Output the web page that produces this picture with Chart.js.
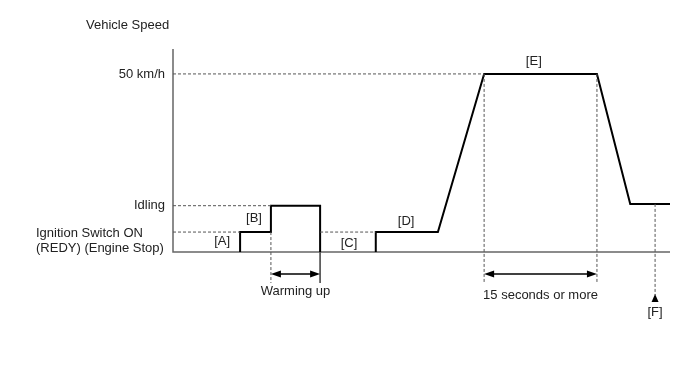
<!DOCTYPE html>
<html>
<head>
<meta charset="utf-8">
<script src="https://cdn.jsdelivr.net/npm/chart.js@4"></script>
<style>
  html, body { margin: 0; background: #fff; }
  #wrap { width: 688px; height: 366px; }
</style>
</head>
<body>
<div id="wrap"><canvas id="speedChart"></canvas></div>
<script>
// speed levels (schematic units, 50 = 50 km/h)
const levelNames = ["Ignition Switch ON", "Idling", "50 km/h"];
const levelValues = [5.6, 13, 50];

// speed profile, time as % of the drawing window
const profileAX = [13.5, 13.5, 19.7, 19.7, 29.6, 29.6];
const profileAY = [0, 5.6, 5.6, 13, 13, 0];
const profileBX = [40.8, 40.8, 53.3, 62.6, 85.3, 92, 100];
const profileBY = [0, 5.6, 5.6, 50, 50, 13.5, 13.5];

// step labels
const stepNames = ["[A]", "[B]", "[C]", "[D]", "[E]", "[F]"];
const stepX = [9.9, 16.3, 35.4, 46.9, 72.6, 97];
const stepY = [3.1, 9.5, 2.5, 8.7, 53.4, -17.1];

// intervals marked under the axis
const intervalNames = ["Warming up", "15 seconds or more"];
const intervalFrom = [19.7, 62.6];
const intervalTo = [29.6, 85.3];
const intervalTextY = [-11.2, -12.1];
const intervalArrowY = -6.2;

// dashed guides [from, to, at]
const hGuides = [[0, 62.6, 50], [0, 19.7, 13], [0, 13.5, 5.6], [29.6, 40.8, 5.6]];
const vGuides = [[19.7, 5.6, -8.7], [62.6, 50, -8.7], [85.3, 50, -8.7], [97, 13.5, -12.1]];
const markF = 97;

const toPoints = (xs, ys) => xs.map((x, i) => ({ x: x, y: ys[i] }));

const grey = "#555";
const dash = [3, 2];

const datasets = [];
hGuides.forEach((g) => {
  datasets.push({ data: [{ x: g[0], y: g[2] }, { x: g[1], y: g[2] }], borderColor: grey, borderWidth: 1, borderDash: dash });
});
vGuides.forEach((g) => {
  datasets.push({ data: [{ x: g[0], y: g[1] }, { x: g[0], y: g[2] }], borderColor: grey, borderWidth: 1, borderDash: dash });
});
// solid end mark of warming up
datasets.push({ data: [{ x: 29.6, y: 0 }, { x: 29.6, y: -8.7 }], borderColor: grey, borderWidth: 1 });
datasets.push({ data: toPoints(profileAX, profileAY), borderColor: "#000", borderWidth: 2 });
datasets.push({ data: toPoints(profileBX, profileBY), borderColor: "#000", borderWidth: 2 });

const FONT = "13px 'Liberation Sans', Arial, sans-serif";

const extras = {
  id: "extras",
  beforeDatasetsDraw(chart) {
    const { ctx, chartArea: a } = chart;
    ctx.save();
    ctx.strokeStyle = "#666";
    ctx.lineWidth = 1.5;
    ctx.beginPath();
    ctx.moveTo(a.left, a.top);
    ctx.lineTo(a.left, a.bottom);
    ctx.lineTo(a.right, a.bottom);
    ctx.stroke();
    ctx.restore();
  },
  afterDatasetsDraw(chart) {
    const { ctx, scales: { x, y }, chartArea: a } = chart;
    ctx.save();
    ctx.font = FONT;
    ctx.fillStyle = "#222";
    ctx.textBaseline = "middle";

    ctx.textAlign = "left";
    ctx.fillText("Vehicle Speed", 86, 25);

    ctx.textAlign = "right";
    ctx.fillText(levelNames[2], a.left - 8, y.getPixelForValue(levelValues[2]));
    ctx.fillText(levelNames[1], a.left - 8, y.getPixelForValue(levelValues[1]));
    ctx.textAlign = "left";
    const yi = y.getPixelForValue(levelValues[0]);
    ctx.fillText(levelNames[0], 36, yi + 1);
    ctx.fillText("(REDY) (Engine Stop)", 36, yi + 16);

    ctx.textAlign = "center";
    stepNames.forEach((s, i) => ctx.fillText(s, x.getPixelForValue(stepX[i]), y.getPixelForValue(stepY[i])));

    ctx.fillStyle = "#000";
    ctx.strokeStyle = "#000";
    ctx.lineWidth = 1.5;
    intervalNames.forEach((name, i) => {
      const x1 = x.getPixelForValue(intervalFrom[i]);
      const x2 = x.getPixelForValue(intervalTo[i]);
      const ya = y.getPixelForValue(intervalArrowY);
      ctx.beginPath();
      ctx.moveTo(x1 + 4, ya);
      ctx.lineTo(x2 - 4, ya);
      ctx.stroke();
      ctx.beginPath();
      ctx.moveTo(x1, ya); ctx.lineTo(x1 + 10, ya - 3.5); ctx.lineTo(x1 + 10, ya + 3.5); ctx.closePath();
      ctx.moveTo(x2, ya); ctx.lineTo(x2 - 10, ya - 3.5); ctx.lineTo(x2 - 10, ya + 3.5); ctx.closePath();
      ctx.fill();
      ctx.fillStyle = "#222";
      ctx.fillText(name, (x1 + x2) / 2, y.getPixelForValue(intervalTextY[i]));
      ctx.fillStyle = "#000";
    });

    // arrow head of [F]
    const xf = x.getPixelForValue(markF);
    const yf = y.getPixelForValue(-12.1);
    ctx.beginPath();
    ctx.moveTo(xf, yf - 1);
    ctx.lineTo(xf - 3.5, yf + 7);
    ctx.lineTo(xf + 3.5, yf + 7);
    ctx.closePath();
    ctx.fill();
    ctx.restore();
  }
};

new Chart(document.getElementById("speedChart"), {
  type: "scatter",
  data: { datasets: datasets.map((d) => Object.assign({ showLine: true, pointRadius: 0, tension: 0, clip: false, borderCapStyle: "butt" }, d)) },
  options: {
    responsive: true,
    maintainAspectRatio: false,
    animation: false,
    layout: { padding: { left: 173, right: 18, top: 49, bottom: 114 } },
    plugins: { legend: { display: false }, tooltip: { enabled: false } },
    scales: {
      x: { type: "linear", min: 0, max: 100, display: false },
      y: { type: "linear", min: 0, max: 57, display: false }
    }
  },
  plugins: [extras]
});
</script>
</body>
</html>
